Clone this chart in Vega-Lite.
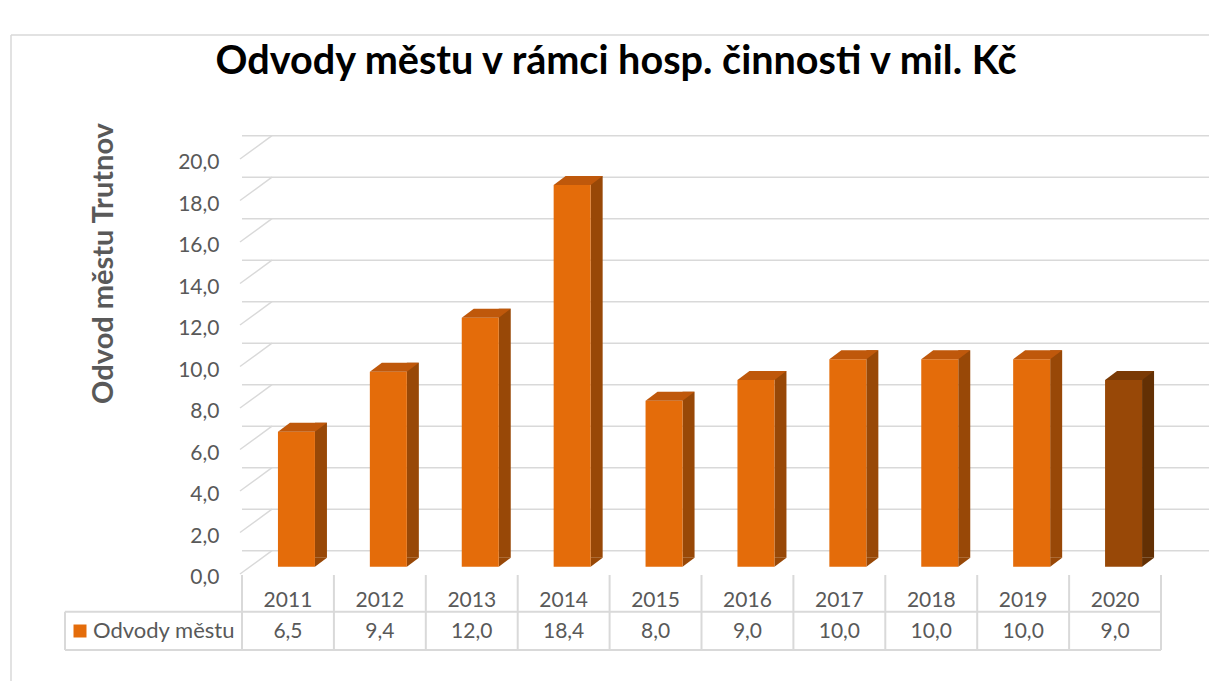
{
  "$schema": "https://vega.github.io/schema/vega-lite/v6.json",
  "width": 952,
  "height": 540,
  "autosize": {"type": "none"},
  "padding": {"left": 242, "top": 120, "right": 15, "bottom": 21},
  "background": "white",
  "config": {
    "view": {"stroke": null},
    "font": "Lato",
    "locale": {"number": {"decimal": ",", "thousands": " ", "grouping": [3], "currency": ["", " Kč"]}}
  },
  "title": {
    "text": "Odvody městu v rámci hosp. činnosti v mil. Kč",
    "font": "Lato",
    "fontSize": 39.6,
    "fontWeight": "bold",
    "color": "#000000",
    "anchor": "middle",
    "frame": "group",
    "dx": -102,
    "offset": 0,
    "dy": 79.5,
    "baseline": "alphabetic"
  },
  "datasets": {
    "bars": [
      {"year": 2011, "value": 6.5, "series": "Odvody městu"},
      {"year": 2012, "value": 9.4, "series": "Odvody městu"},
      {"year": 2013, "value": 12.0, "series": "Odvody městu"},
      {"year": 2014, "value": 18.4, "series": "Odvody městu"},
      {"year": 2015, "value": 8.0, "series": "Odvody městu"},
      {"year": 2016, "value": 9.0, "series": "Odvody městu"},
      {"year": 2017, "value": 10.0, "series": "Odvody městu"},
      {"year": 2018, "value": 10.0, "series": "Odvody městu"},
      {"year": 2019, "value": 10.0, "series": "Odvody městu"},
      {"year": 2020, "value": 9.0, "series": "Odvody městu"}
    ],
    "ticks": [
      {"v": 0}, {"v": 2}, {"v": 4}, {"v": 6}, {"v": 8}, {"v": 10},
      {"v": 12}, {"v": 14}, {"v": 16}, {"v": 18}, {"v": 20}
    ],
    "one": [{}]
  },
  "layer": [
    {
      "data": {"name": "ticks"},
      "mark": {"type": "rule", "color": "#D9D9D9", "strokeWidth": 1.5, "xOffset": 30, "yOffset": -16},
      "encoding": {
        "y": {
          "field": "v", "type": "quantitative",
          "scale": {"domain": [-4.496, 21.528], "nice": false, "zero": false, "padding": 0},
          "axis": {
            "values": [0, 2, 4, 6, 8, 10, 12, 14, 16, 18, 20],
            "format": ".1f",
            "domain": false, "ticks": false, "tickSize": 0, "grid": false,
            "labelPadding": 23, "labelOffset": 11,
            "labelFont": "Lato", "labelFontSize": 21, "labelColor": "#595959",
            "title": "Odvod městu Trutnov",
            "titleFont": "Lato", "titleFontSize": 29, "titleFontWeight": "bold", "titleColor": "#595959",
            "titleX": -139, "titleY": 143, "titleAngle": -90, "titleAlign": "center", "titleBaseline": "middle"
          }
        }
      }
    },
    {
      "data": {"name": "ticks"},
      "mark": {"type": "rule", "color": "#D9D9D9", "strokeWidth": 1.5, "xOffset": -2, "x2Offset": 30, "yOffset": 7.3, "y2Offset": -16},
      "encoding": {
        "x": {"datum": 2010.5, "type": "quantitative", "scale": {"domain": [2010.5, 2020.859], "nice": false, "zero": false, "padding": 0}, "axis": null},
        "x2": {"datum": 2010.5},
        "y": {"field": "v", "type": "quantitative"},
        "y2": {"field": "v"}
      }
    },
    {
      "data": {"name": "bars"},
      "mark": {"type": "bar", "orient": "vertical", "width": 12, "xOffset": 33, "yOffset": -9, "y2Offset": -9},
      "encoding": {
        "x": {"field": "year", "type": "quantitative", "axis": null},
        "y": {"field": "value", "type": "quantitative"},
        "y2": {"datum": 0},
        "color": {"condition": {"test": "datum.year === 2020", "value": "#633004"}, "value": "#984807"}
      }
    },
    {
      "data": {"name": "bars"},
      "mark": {"type": "point", "shape": "M27,-9L39,-9L27,0Z", "size": 4, "filled": true, "opacity": 1, "strokeWidth": 0},
      "encoding": {
        "x": {"field": "year", "type": "quantitative", "axis": null},
        "y": {"datum": 0, "type": "quantitative"},
        "color": {"condition": {"test": "datum.year === 2020", "value": "#633004"}, "value": "#984807"}
      }
    },
    {
      "data": {"name": "bars"},
      "mark": {"type": "bar", "orient": "vertical", "width": 37, "xOffset": 8.5},
      "encoding": {
        "x": {"field": "year", "type": "quantitative", "axis": null},
        "y": {"field": "value", "type": "quantitative"},
        "y2": {"datum": 0},
        "color": {
          "condition": {"test": "datum.year === 2020", "value": "#984807"},
          "field": "series", "type": "nominal",
          "scale": {"domain": ["Odvody městu"], "range": ["#E46C0A"]},
          "legend": {
            "orient": "none", "legendX": -173, "legendY": 500, "title": null,
            "symbolType": "square", "symbolSize": 169, "symbolStrokeWidth": 0,
            "labelFont": "Lato", "labelFontSize": 22, "labelColor": "#595959", "labelOffset": 2, "padding": 0
          }
        }
      }
    },
    {
      "data": {"name": "bars"},
      "mark": {"type": "point", "shape": "M-10,0L27,0L39,-9L2,-9Z", "size": 4, "filled": true, "opacity": 1, "strokeWidth": 0},
      "encoding": {
        "x": {"field": "year", "type": "quantitative", "axis": null},
        "y": {"field": "value", "type": "quantitative"},
        "color": {"condition": {"test": "datum.year === 2020", "value": "#7A3A05"}, "value": "#BF580B"}
      }
    },
    {
      "data": {"name": "bars"},
      "mark": {"type": "rule", "color": "#D9D9D9", "strokeWidth": 2, "xOffset": -45.95, "yOffset": 8.3, "y2Offset": 83.3},
      "encoding": {
        "x": {"field": "year", "type": "quantitative", "axis": null},
        "y": {"datum": 0, "type": "quantitative"},
        "y2": {"datum": 0}
      }
    },
    {
      "data": {"name": "one"},
      "mark": {"type": "rule", "color": "#D9D9D9", "strokeWidth": 2, "xOffset": 45.95, "yOffset": 8.3, "y2Offset": 83.3},
      "encoding": {
        "x": {"datum": 2020, "type": "quantitative", "axis": null},
        "y": {"datum": 0, "type": "quantitative"},
        "y2": {"datum": 0}
      }
    },
    {
      "data": {"name": "one"},
      "mark": {"type": "rule", "color": "#D9D9D9", "strokeWidth": 2, "xOffset": -177, "yOffset": 45, "y2Offset": 83.3},
      "encoding": {
        "x": {"datum": 2010.5, "type": "quantitative", "axis": null},
        "y": {"datum": 0, "type": "quantitative"},
        "y2": {"datum": 0}
      }
    },
    {
      "data": {"name": "one"},
      "mark": {"type": "rule", "color": "#D9D9D9", "strokeWidth": 2, "xOffset": -177, "yOffset": 45},
      "encoding": {
        "x": {"datum": 2010.5, "type": "quantitative", "axis": null},
        "x2": {"datum": 2020.5},
        "y": {"datum": 0, "type": "quantitative"}
      }
    },
    {
      "data": {"name": "one"},
      "mark": {"type": "rule", "color": "#D9D9D9", "strokeWidth": 2, "xOffset": -177, "yOffset": 83.3},
      "encoding": {
        "x": {"datum": 2010.5, "type": "quantitative", "axis": null},
        "x2": {"datum": 2020.5},
        "y": {"datum": 0, "type": "quantitative"}
      }
    },
    {
      "data": {"name": "bars"},
      "mark": {"type": "text", "font": "Lato", "fontSize": 21, "color": "#595959", "align": "center", "baseline": "alphabetic", "yOffset": 40},
      "encoding": {
        "x": {"field": "year", "type": "quantitative", "axis": null},
        "y": {"datum": 0, "type": "quantitative"},
        "text": {"field": "year", "type": "nominal"}
      }
    },
    {
      "data": {"name": "bars"},
      "mark": {"type": "text", "font": "Lato", "fontSize": 21, "color": "#595959", "align": "center", "baseline": "alphabetic", "yOffset": 71.3},
      "encoding": {
        "x": {"field": "year", "type": "quantitative", "axis": null},
        "y": {"datum": 0, "type": "quantitative"},
        "text": {"field": "value", "type": "quantitative", "format": ".1f"}
      }
    },
    {
      "data": {"name": "one"},
      "mark": {"type": "rule", "color": "#D9D9D9", "strokeWidth": 1.5, "xOffset": -231, "yOffset": -85, "y2Offset": 21},
      "encoding": {
        "x": {"datum": 2010.5, "type": "quantitative", "axis": null},
        "y": {"datum": 21.528, "type": "quantitative"},
        "y2": {"datum": -4.496}
      }
    },
    {
      "data": {"name": "one"},
      "mark": {"type": "rule", "color": "#D9D9D9", "strokeWidth": 1.5, "xOffset": -231, "x2Offset": 15, "yOffset": -85},
      "encoding": {
        "x": {"datum": 2010.5, "type": "quantitative", "axis": null},
        "x2": {"datum": 2020.859},
        "y": {"datum": 21.528, "type": "quantitative"}
      }
    }
  ]
}
